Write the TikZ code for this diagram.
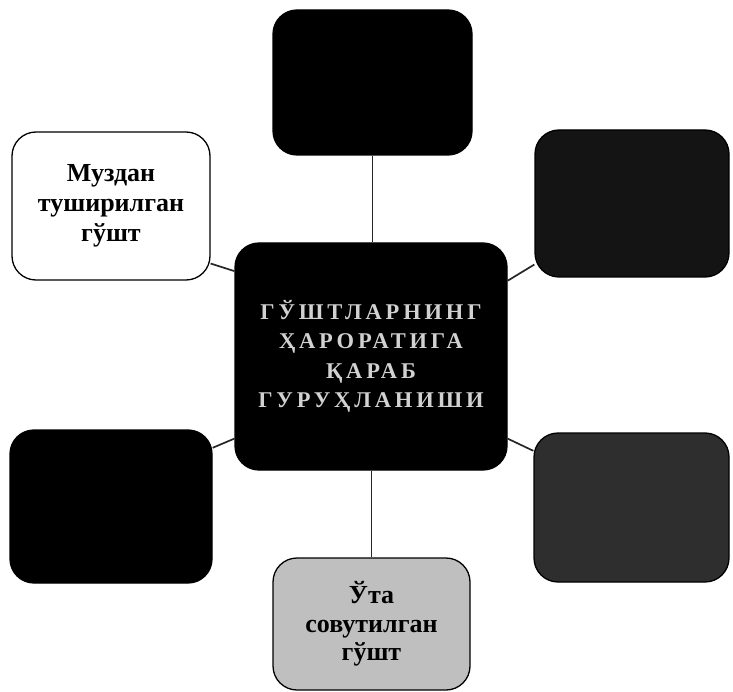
\documentclass[tikz,border=0pt]{standalone}
\usepackage{fontspec}
\setmainfont{Liberation Serif}
\begin{document}
\begin{tikzpicture}[x=1pt,y=-1pt,
  box/.style={draw=black, line width=1.3pt, rounded corners=24pt, inner sep=0pt, align=center},
  link/.style={draw=black!85, line width=1.7pt},
  lbl/.style={font=\fontsize{26}{30}\selectfont\bfseries}]
\useasboundingbox (0,0) rectangle (733,692);

% central node
\node[box, fill=black, minimum width=272pt, minimum height=227pt,
      text=black!18, font=\fontsize{22.5}{29.5}\selectfont\bfseries\addfontfeature{LetterSpace=17}]
  (ctr) at (371,356.5) {ГЎШТЛАРНИНГ\\ҲАРОРАТИГА\\ҚАРАБ\\ГУРУҲЛАНИШИ};

% surrounding nodes
\node[box, fill=black, minimum width=199pt, minimum height=145pt] (top) at (372.5,82.5) {};
\node[box, fill=white, minimum width=198pt, minimum height=148pt, lbl] (tl) at (111,206)
  {Муздан\\туширилган\\гўшт};
\node[box, fill=black!92, minimum width=194pt, minimum height=147pt] (tr) at (632,203.5) {};
\node[box, fill=black, minimum width=202pt, minimum height=153pt] (bl) at (111,506.5) {};
\node[box, fill=black!82, minimum width=195pt, minimum height=149pt] (br) at (631.5,507.5) {};
\node[box, fill=black!25, minimum width=197pt, minimum height=132pt, lbl,
      font=\fontsize{26}{28.5}\selectfont\bfseries] (bot) at (371.5,624)
  {Ўта\\совутилган\\гўшт};

% connectors
\draw[link] (top.south) -- (top.south |- ctr.north);
\draw[link] (bot.north) -- (bot.north |- ctr.south);
\draw[link] (tl.-30) -- (ctr.148);
\draw[link] (tr.212) -- (ctr.29);
\draw[link] (bl.30) -- (ctr.211);
\draw[link] (br.150) -- (ctr.-31);
\end{tikzpicture}
\end{document}
